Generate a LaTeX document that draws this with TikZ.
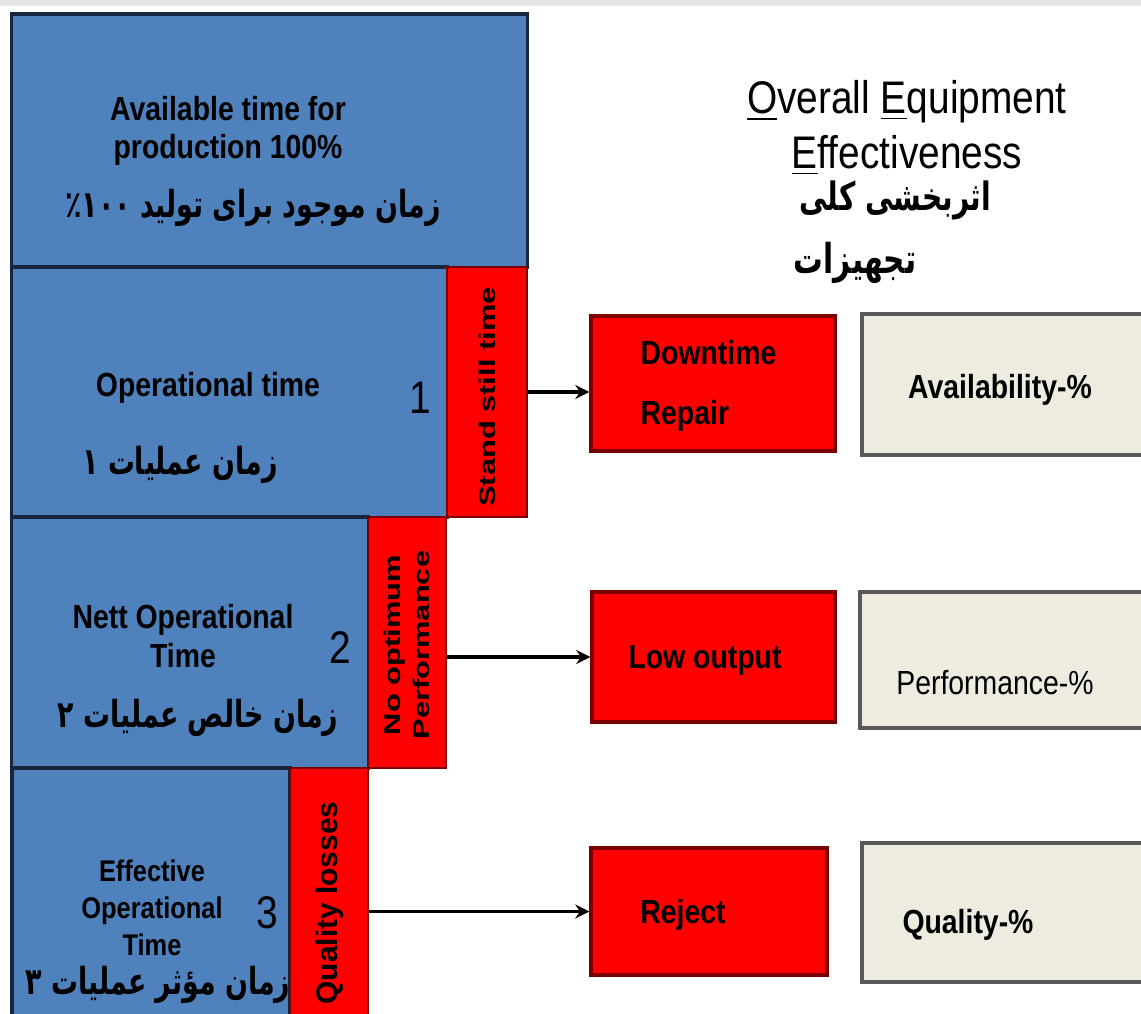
\documentclass[tikz,border=0pt]{standalone}
\usepackage{fontspec}
\setmainfont{Liberation Sans}
\newfontfamily\cond[FakeStretch=0.85]{Liberation Sans}
\newfontfamily\wide[FakeStretch=1.35]{Liberation Sans}
\newfontfamily\farsi[Script=Arabic, FakeStretch=0.72]{DejaVu Sans}
\TeXXeTstate=1
\usetikzlibrary{arrows.meta}
\definecolor{boxblue}{HTML}{4F81BD}
\definecolor{navy}{HTML}{17253D}
\definecolor{lossred}{HTML}{FF0000}
\definecolor{darkred}{HTML}{7A0000}
\definecolor{beige}{HTML}{EEECE1}
\definecolor{edgegray}{HTML}{595959}
\tikzset{
  timebox/.style={draw=navy, fill=boxblue, line width=0.9pt, inner sep=0pt},
  lossbar/.style={draw=darkred, fill=lossred, line width=0.6pt, inner sep=0pt},
  lossbox/.style={draw=darkred, fill=lossred, line width=0.9pt, inner sep=0pt},
  ratebox/.style={draw=edgegray, fill=beige, line width=1pt, inner sep=0pt},
  lbl/.style={font=\cond\bfseries\fontsize{9.5}{11}\selectfont, align=center, inner sep=0pt},
  fa/.style={font=\farsi\bfseries\fontsize{10.6}{12}\selectfont, inner sep=0pt},
  vlbl/.style={font=\wide\bfseries\fontsize{6.5}{8.2}\selectfont, rotate=90, align=center, inner sep=0pt},
  num/.style={font=\cond\fontsize{13}{15}\selectfont, inner sep=0pt},
  flow/.style={line width=0.9pt, -{Stealth[length=4pt,width=4pt]}}
}

\begin{document}
\begin{tikzpicture}[x=0.01cm, y=-0.01cm]
%\draw [help lines, step=100] (0,0) grid (1141,1014);
\useasboundingbox (0,0) rectangle (1141,1014);
\clip (0,0) rectangle (1141,1014);
\fill [black!10] (0,0) rectangle (1141,6);
% time blocks on the left
\node [timebox, minimum width=5.15cm, minimum height=2.53cm] (avail) at (269.5,140.5) {};
\node [timebox, minimum width=4.35cm, minimum height=2.50cm] (optime) at (229.5,392) {};
\node [timebox, minimum width=3.56cm, minimum height=2.51cm] (nett) at (190,642.5) {};
\node [timebox, minimum width=2.78cm, minimum height=2.62cm] (eff) at (151,899) {};
\node [lossbar, minimum width=0.80cm, minimum height=2.50cm] (stand) at (487,392) {};
\node [lossbar, minimum width=0.78cm, minimum height=2.51cm] (noopt) at (407,642.5) {};
\node [lossbar, minimum width=0.78cm, minimum height=2.62cm] (qloss) at (329,899) {};
% losses and rates on the right
\node [lossbox, minimum width=2.44cm, minimum height=1.35cm] (down) at (713,383.5) {};
\node [lossbox, minimum width=2.43cm, minimum height=1.30cm] (low) at (713.5,657) {};
\node [lossbox, minimum width=2.36cm, minimum height=1.27cm] (reject) at (709,911.5) {};
\node [ratebox, minimum width=2.88cm, minimum height=1.41cm] (avrate) at (1006,384.5) {};
\node [ratebox, minimum width=2.90cm, minimum height=1.36cm] (perfrate) at (1005,660) {};
\node [ratebox, minimum width=2.88cm, minimum height=1.39cm] (qrate) at (1006,912.5) {};
% texts
\node [lbl] (availtxt) at (228,131) {Available time for\\production 100\%};
\node [fa] (availfa) at (253,208) {\beginR زمان موجود برای تولید ٪۱۰۰\endR};
\node [lbl] (optxt) at (208,388) {Operational time};
\node [num] (one) at (420,398) {1};
\node [fa] (opfa) at (180,465) {\beginR زمان عملیات ۱\endR};
\node [lbl] (netttxt) at (183,636) {Nett Operational\\Time};
\node [num] (two) at (340,648) {2};
\node [fa] (nettfa) at (198,718) {\beginR زمان خالص عملیات ۲\endR};
\node [lbl, font=\cond\bfseries\fontsize{8.5}{10.5}\selectfont] (efftxt) at (152,908) {Effective\\Operational\\Time};
\node [num] (three) at (267,913) {3};
\node [fa] (efffa) at (158,985) {\beginR زمان مؤثر عملیات ۳\endR};
\node [vlbl] (standtxt) at (487,397) {Stand still time};
\node [vlbl] (nopttxt) at (407,645) {No optimum\\Performance};
\node [vlbl, font=\bfseries\fontsize{8.5}{10}\selectfont] (qlosstxt) at (330,903) {Quality losses};
\node [lbl, align=left, anchor=west] (downtxt) at (640,386) {Downtime\\[6pt]Repair};
\node [lbl] (lowtxt) at (705,660) {Low output};
\node [lbl] (rejtxt) at (683,915) {Reject};
\node [lbl] (avtxt) at (1000,390) {Availability-\%};
\node [lbl, font=\cond\fontsize{9.5}{11}\selectfont] (perftxt) at (995,683) {Performance-\%};
\node [lbl] (qtxt) at (968,925) {Quality-\%};
% title
\node [font=\cond\fontsize{13}{15.6}\selectfont, align=center, inner sep=0pt] (title) at (907,128) {\underline{O}verall \underline{E}quipment\\\underline{E}ffectiveness};
\node [fa, font=\farsi\bfseries\fontsize{11.1}{13}\selectfont] (titlefa) at (895,200) {\beginR اثربخشی کلی\endR};
\node [fa, font=\farsi\bfseries\fontsize{11.7}{13}\selectfont] (titlefb) at (855,263) {\beginR تجهیزات\endR};
% arrows
\draw [flow] (stand.east) -- (stand.east -| down.west);
\draw [flow] (noopt.east |- low.west) -- (low.west);
\draw [flow] (qloss.east |- reject.west) -- (reject.west);
\end{tikzpicture}
\end{document}
